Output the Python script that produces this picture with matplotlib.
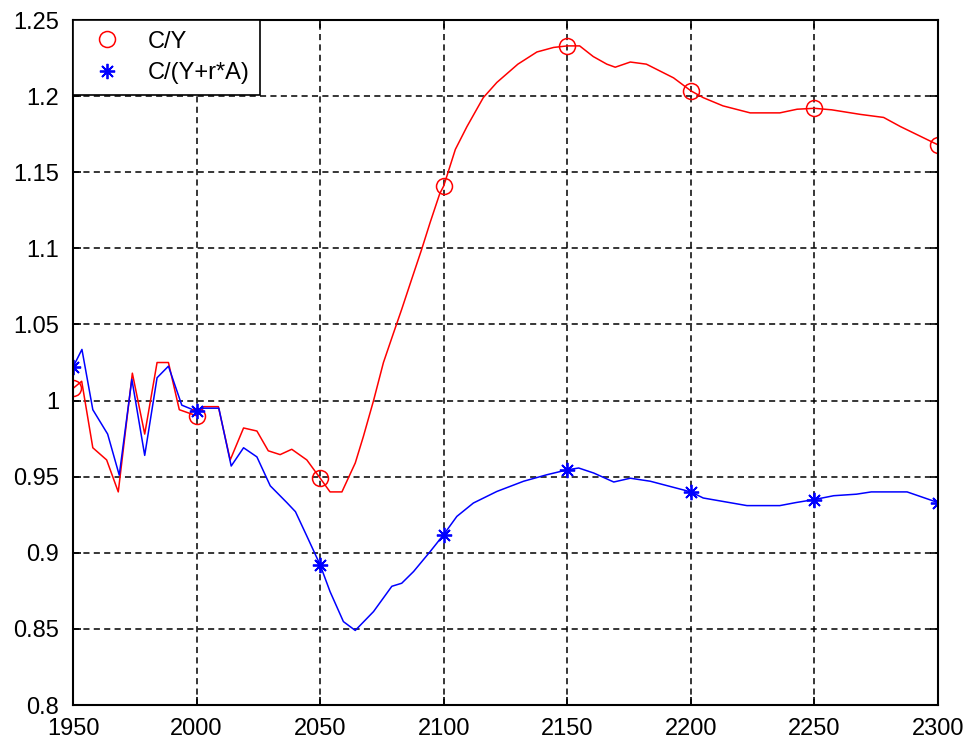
import numpy as np
import matplotlib
matplotlib.use('Agg')
import matplotlib.pyplot as plt

plt.rcParams['font.family'] = ['Liberation Sans', 'DejaVu Sans']

# C/Y (red)
years_cy = [1950, 1953.5, 1958, 1963.6, 1968.3, 1974, 1979, 1984, 1988.6, 1993,
            2000, 2002.8, 2008.8, 2013.6, 2019, 2024.4, 2029, 2033.8, 2038.5, 2044.6,
            2050, 2054, 2058.8, 2064.2, 2067.5, 2071.6, 2075.6, 2079.7, 2083, 2087,
            2091, 2094.5, 2098.4, 2100, 2104.7, 2109.4, 2116, 2121.5, 2130, 2137.7,
            2144.5, 2150, 2155, 2160.5, 2166, 2169.4, 2175.5, 2182, 2193, 2200,
            2205, 2213, 2224, 2236, 2243, 2250, 2257, 2268.6, 2278, 2284.8, 2300]
cy = [1.008, 1.0127, 0.969, 0.961, 0.940, 1.018, 0.978, 1.025, 1.025, 0.994,
      0.990, 0.996, 0.996, 0.961, 0.982, 0.980, 0.967, 0.9645, 0.968, 0.961,
      0.949, 0.940, 0.940, 0.959, 0.9765, 1.000, 1.025, 1.0445, 1.060, 1.0796,
      1.099, 1.117, 1.136, 1.141, 1.165, 1.180, 1.199, 1.209, 1.221, 1.229,
      1.232, 1.233, 1.233, 1.226, 1.221, 1.219, 1.2224, 1.221, 1.212, 1.2035,
      1.199, 1.1936, 1.189, 1.189, 1.1914, 1.192, 1.191, 1.188, 1.186, 1.180, 1.168]

# C/(Y+r*A) (blue)
years_cya = [1950, 1953.6, 1958, 1964, 1968.7, 1973.8, 1979, 1984, 1988.6, 1994,
             2000, 2003, 2009, 2014, 2019, 2024.4, 2029.8, 2036.5, 2040, 2044.6,
             2050, 2054, 2059.4, 2064.2, 2071.6, 2079, 2083, 2087.8, 2094.5, 2100,
             2105.3, 2112, 2121.5, 2132.3, 2141.8, 2150, 2154.6, 2160.7, 2168.8, 2175.5,
             2183.6, 2200, 2205, 2222.7, 2236, 2242.5, 2250, 2257.8, 2267, 2273,
             2287.5, 2300]
cya = [1.022, 1.0336, 0.994, 0.978, 0.951, 1.014, 0.964, 1.015, 1.0226, 0.997,
       0.993, 0.995, 0.995, 0.957, 0.969, 0.963, 0.944, 0.933, 0.927, 0.911,
       0.892, 0.8745, 0.8548, 0.849, 0.8614, 0.878, 0.880, 0.8877, 0.9008, 0.912,
       0.9239, 0.9327, 0.9403, 0.947, 0.9513, 0.9545, 0.9557, 0.9524, 0.9465, 0.949,
       0.947, 0.940, 0.936, 0.931, 0.931, 0.933, 0.935, 0.9375, 0.9385, 0.940,
       0.940, 0.933]

x_ticks = [1950, 2000, 2050, 2100, 2150, 2200, 2250, 2300]
y_ticks = [0.8, 0.85, 0.9, 0.95, 1.0, 1.05, 1.1, 1.15, 1.2, 1.25]
y_labels = ['0.8', '0.85', '0.9', '0.95', '1', '1.05', '1.1', '1.15', '1.2', '1.25']

fig = plt.figure(figsize=(9.7, 7.47), dpi=100)
ax = fig.add_axes([0.0753, 0.0562, 0.8917, 0.917])

# lines
ax.plot(years_cy, cy, color='red', lw=1.1)
ax.plot(years_cya, cya, color='blue', lw=1.1)

# markers every 50 years
mk_cy = [i for i, y in enumerate(years_cy) if y in x_ticks]
mk_cya = [i for i, y in enumerate(years_cya) if y in x_ticks]
ax.plot(np.array(years_cy)[mk_cy], np.array(cy)[mk_cy], 'o', mfc='none', mec='red',
        ms=11.5, mew=1.1, ls='none', label='C/Y')
ax.plot(np.array(years_cya)[mk_cya], np.array(cya)[mk_cya], marker=(8, 2, 0),
        color='blue', ms=11, mew=1.3, ls='none', label='C/(Y+r*A)')

ax.set_xlim(1950, 2300)
ax.set_ylim(0.8, 1.25)
ax.set_xticks(x_ticks)
ax.set_yticks(y_ticks)
ax.set_yticklabels(y_labels)
ax.grid(True, color='black', linestyle=(0, (4, 2.8)), lw=1.1)
ax.tick_params(direction='in', top=True, right=True, labelsize=17, length=6, width=1.2)
ax.tick_params(axis='x', pad=9)
ax.tick_params(axis='y', pad=10)
for s in ax.spines.values():
    s.set_linewidth(1.5)

leg = ax.legend(loc='upper left', bbox_to_anchor=(0, 1), borderaxespad=0,
                fancybox=False, edgecolor='black', framealpha=1, fontsize=17,
                handlelength=2.0, handletextpad=0.7, borderpad=0.45, labelspacing=0.4)
leg.get_frame().set_linewidth(1.2)

fig.savefig('out.png', dpi=100)
